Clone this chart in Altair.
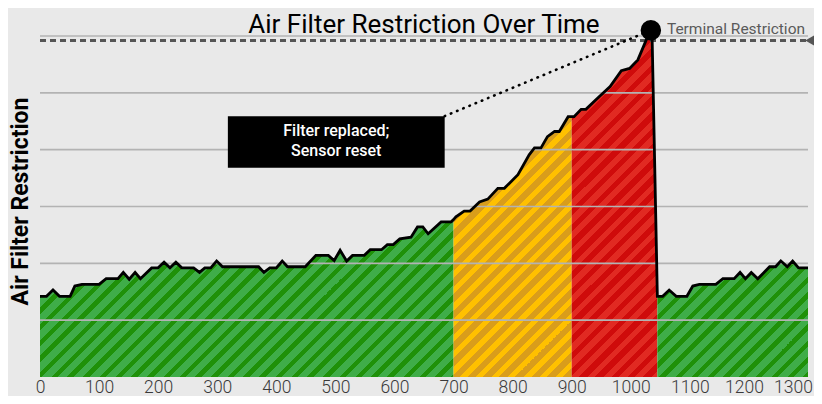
import math
import altair as alt
import pandas as pd

# ---- data ----
time_vals = [0, 11, 22, 33, 51, 59, 71, 100, 112, 132, 141, 151, 161, 170, 189, 200, 210, 220, 230, 240,
             260, 270, 279, 289, 299, 309, 370, 379, 389, 400, 410, 419, 449, 467, 488, 498, 508, 519, 529,
             549, 559, 578, 588, 598, 609, 628, 639, 648, 657, 679, 696, 700, 704, 718, 728, 744, 758, 775,
             786, 809, 828, 837, 848, 859, 871, 879, 894, 900, 904, 916, 924, 941, 965, 984, 998, 1012,
             1031, 1036, 1045, 1054, 1065, 1077, 1095, 1105, 1116, 1144, 1156, 1175, 1185, 1194, 1204,
             1215, 1235, 1245, 1254, 1265, 1274, 1284, 1300]
restriction = [1.42, 1.42, 1.53, 1.42, 1.42, 1.60, 1.63, 1.63, 1.73, 1.73, 1.84, 1.72, 1.84, 1.73, 1.92,
               1.92, 2.02, 1.92, 2.02, 1.92, 1.92, 1.84, 1.92, 1.92, 2.04, 1.94, 1.94, 1.84, 1.92, 1.92,
               2.04, 1.94, 1.94, 2.14, 2.14, 2.05, 2.23, 2.04, 2.14, 2.14, 2.24, 2.24, 2.33, 2.33, 2.43,
               2.46, 2.64, 2.64, 2.52, 2.73, 2.73, 2.77, 2.82, 2.92, 2.92, 3.08, 3.13, 3.32, 3.32, 3.56,
               3.91, 4.03, 4.03, 4.23, 4.32, 4.32, 4.58, 4.58, 4.58, 4.71, 4.71, 4.88, 5.11, 5.39, 5.43,
               5.58, 6.05, 6.05, 1.42, 1.42, 1.53, 1.42, 1.42, 1.60, 1.63, 1.63, 1.73, 1.73, 1.84, 1.73,
               1.84, 1.73, 1.94, 1.94, 2.04, 1.94, 2.04, 1.92, 1.92]

zone_start = [0, 700, 900, 1045]
zone_end = [700, 900, 1045, 1300]
zone_light = ["#3fad49", "#ffc000", "#e12a22", "#3fad49"]
zone_dark = ["#1f9109", "#d99d1b", "#cf0b0b", "#1f9109"]
zone_dark_frac = [0.38, 0.55, 0.5, 0.38]

grid_levels = [1, 2, 3, 4, 5, 6]
x_ticks = list(range(0, 1301, 100))
terminal_level = 5.92
peak_time, peak_level = 1034, 6.1
note_lines = ["Filter replaced;", "Sensor reset"]
note_box = dict(t=318, t2=685, r=3.68, r2=4.59)
note_line_r = [4.32, 3.98]
title_text = "Air Filter Restriction Over Time"
title_pos = dict(t=650, r=6.06)
terminal_label = "Terminal Restriction"
terminal_label_pos = dict(t=1295, r=6.04)

# ---- layout ----
W, H = 768, 341
X_MAX, Y_MAX = 1300, 6
PX_X, PX_Y = W / X_MAX, H / Y_MAX
PERIOD = 16.0  # stripe period measured along x (px)

FONT = "Roboto"

xs = alt.Scale(domain=[0, X_MAX], nice=False, zero=False)
ys = alt.Scale(domain=[0, Y_MAX], nice=False)
x_axis = alt.Axis(values=x_ticks, format="d", grid=False, ticks=False, tickSize=0, domain=False,
                  labelFont=FONT, labelFontSize=17.5, labelFontWeight=300, labelColor="#3a3a3a",
                  labelBaseline="bottom", labelPadding=19, title=None, labelFlush=False,
                  labelOverlap=False,
                  labelOffset={"condition": [{"test": "datum.value == 1300", "value": -15},
                                             {"test": "datum.value == 1200", "value": -5}],
                               "value": 0})
y_axis = alt.Axis(grid=False, ticks=False, labels=False, domain=False,
                  title="Air Filter Restriction", titleFont=FONT, titleFontSize=23,
                  titleFontWeight="bold", titleColor="#000000", titleAngle=270,
                  titleBaseline="alphabetic", titleAlign="center", titleX=-13, titleY=165)


def X(field="t"):
    return alt.X(f"{field}:Q", scale=xs, axis=x_axis)


def Y(field="r"):
    return alt.Y(f"{field}:Q", scale=ys, axis=y_axis)


def stripe_gradient(light, dark, frac, x0, x1, ytop):
    w = (x1 - x0) * PX_X
    h = ytop * PX_Y
    shift = x0 * PX_X + (Y_MAX - ytop) * PX_Y
    L = w + h
    stops = []
    k = math.floor(shift / PERIOD) - 1
    while k * PERIOD - shift < L:
        a = k * PERIOD - shift
        m = a + frac * PERIOD
        b = a + PERIOD
        for s0, s1, c in ((a, m, dark), (m, b, light)):
            s0c, s1c = max(0.0, s0), min(L, s1)
            if s1c > s0c:
                stops.append(alt.GradientStop(offset=round(s0c / L, 5), color=c))
                stops.append(alt.GradientStop(offset=round(s1c / L, 5), color=c))
        k += 1
    a_ = w * L / (w * w + h * h)
    b_ = h * L / (w * w + h * h)
    return alt.LinearGradient(gradient="linear", stops=stops, x1=0, y1=0, x2=a_, y2=b_)


series = pd.DataFrame({"t": time_vals, "r": restriction})

layers = []
for i in range(len(zone_start)):
    seg = series[(series.t >= zone_start[i]) & (series.t <= zone_end[i])]
    grad = stripe_gradient(zone_light[i], zone_dark[i], zone_dark_frac[i],
                           seg.t.min(), seg.t.max(), seg.r.max())
    layers.append(alt.Chart(seg).mark_area(fill=grad, interpolate="linear").encode(x=X(), y=Y()))

grid = alt.Chart(pd.DataFrame({"r": grid_levels})).mark_rule(
    color="#b3b3b3", strokeWidth=1.6).encode(y=Y())

terminal = alt.Chart(pd.DataFrame({"t": [0], "t2": [X_MAX], "r": [terminal_level]})).mark_rule(
    color="#555555", strokeWidth=3, strokeDash=[6, 4]).encode(x=X(), x2="t2:Q", y=Y())

arrow = alt.Chart(pd.DataFrame({"t": [X_MAX + 6], "r": [terminal_level]})).mark_point(
    shape="M-1,0L1,-1.15L1,1.15Z", filled=True, fill="#555555", opacity=1, size=160,
    clip=False).encode(x=X(), y=Y())

line = alt.Chart(series).mark_line(color="#000000", strokeWidth=2.8).encode(x=X(), y=Y())

connector = alt.Chart(pd.DataFrame({"t": [note_box["t2"]], "t2": [peak_time],
                                    "r": [note_box["r2"]], "r2": [peak_level]})).mark_rule(
    color="#000000", strokeWidth=2.6, strokeDash=[0.5, 6.2], strokeCap="round").encode(
    x=X(), x2="t2:Q", y=Y(), y2="r2:Q")

dot = alt.Chart(pd.DataFrame({"t": [peak_time], "r": [peak_level]})).mark_point(
    shape="circle", filled=True, fill="#000000", opacity=1, size=420, clip=False).encode(x=X(), y=Y())

box = alt.Chart(pd.DataFrame([note_box])).mark_rect(color="#000000").encode(
    x=X(), x2="t2:Q", y=Y(), y2="r2:Q")

note = alt.Chart(pd.DataFrame({"t": [(note_box["t"] + note_box["t2"]) / 2] * 2,
                               "r": note_line_r, "txt": note_lines})).mark_text(
    color="#ffffff", font=FONT, fontSize=16, fontWeight=500, align="center",
    baseline="middle").encode(x=X(), y=Y(), text="txt:N")

term_text = alt.Chart(pd.DataFrame({**{k: [v] for k, v in terminal_label_pos.items()},
                                    "txt": [terminal_label]})).mark_text(
    color="#5a5a5a", font=FONT, fontSize=15.5, align="right", baseline="alphabetic", clip=False
).encode(x=X(), y=Y(), text="txt:N")

title = alt.Chart(pd.DataFrame({**{k: [v] for k, v in title_pos.items()},
                                "txt": [title_text]})).mark_text(
    color="#000000", font=FONT, fontSize=26, align="center", baseline="alphabetic", clip=False
).encode(x=X(), y=Y(), text="txt:N")

chart = alt.layer(*layers, grid, terminal, arrow, line, connector, dot, box, note, term_text,
                  title).properties(
    width=W, height=H,
    autosize=alt.AutoSizeParams(type="none"),
    padding={"left": 32, "top": 28, "right": 6, "bottom": 19},
    background="#e9e9e9",
).configure_view(stroke=None)

chart.save("out.html", embed_options={"renderer": "svg", "actions": False})
